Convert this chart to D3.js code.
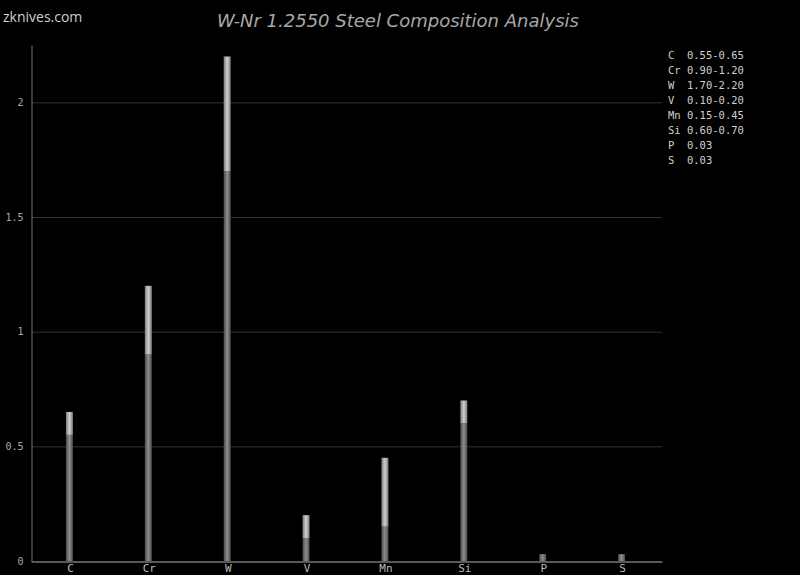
<!DOCTYPE html>
<html><head><meta charset="utf-8">
<script src="https://cdn.jsdelivr.net/npm/d3@7"></script>
<style>body{margin:0;background:#000}svg{display:block}</style>
</head><body>
<script>
const elements = ["C","Cr","W","V","Mn","Si","P","S"];
const minVals = [0.55,0.90,1.70,0.10,0.15,0.60,0.03,0.03];
const maxVals = [0.65,1.20,2.20,0.20,0.45,0.70,0.03,0.03];
const legendLabels = ["C  0.55-0.65","Cr 0.90-1.20","W  1.70-2.20","V  0.10-0.20","Mn 0.15-0.45","Si 0.60-0.70","P  0.03","S  0.03"];
const yTicks = [0,0.5,1,1.5,2];

const W = 800, H = 575;
const m = {l:31, r:138, t:45, b:14};
const svg = d3.select("body").append("svg").attr("width",W).attr("height",H).style("background","#000");
const defs = svg.append("defs");
function grad(id, edge, center){
  const g = defs.append("linearGradient").attr("id",id).attr("x1","0").attr("x2","1").attr("y1","0").attr("y2","0");
  g.append("stop").attr("offset","0%").attr("stop-color",edge);
  g.append("stop").attr("offset","50%").attr("stop-color",center);
  g.append("stop").attr("offset","100%").attr("stop-color",edge);
}
grad("gLow","#4a4a4a","#8e8e8e");
grad("gHigh","#7a7a7a","#d0d0d0");

const x = d3.scaleBand().domain(elements).range([m.l, W-m.r]);
const y = d3.scaleLinear().domain([0,2.25]).range([H-m.b, m.t]);

// gridlines
svg.append("g").selectAll("line").data(yTicks.filter(t=>t>0)).join("line")
  .attr("x1",m.l).attr("x2",W-m.r).attr("y1",d=>y(d)+0.5).attr("y2",d=>y(d)+0.5)
  .attr("stroke","#333").attr("stroke-width",1);

// y axis
const ya = svg.append("g").attr("transform",`translate(${m.l+0.5},0)`)
  .call(d3.axisLeft(y).tickValues(yTicks).tickSize(0).tickPadding(8).tickFormat(d=>String(d)));
ya.select(".domain").attr("stroke","#777");
ya.selectAll("text").attr("fill","#aaa").style("font-family","DejaVu Sans Mono, monospace").style("font-size","10px");

// x axis
const xa = svg.append("g").attr("transform",`translate(0,${H-m.b+0.5})`)
  .call(d3.axisBottom(x).tickSize(0).tickPadding(3));
xa.select(".domain").attr("stroke","#777").attr("stroke-width",1.5);
xa.selectAll("text").attr("fill","#bbb").style("font-family","DejaVu Sans Mono, monospace").style("font-size","11px");

// bars
const bw = 7;
const data = elements.map((e,i)=>({e, lo:minVals[i], hi:maxVals[i]}));
const bars = svg.append("g");
bars.selectAll("rect.lo").data(data).join("rect").attr("class","lo")
  .attr("x",d=>x(d.e)+x.bandwidth()/2-bw/2-1).attr("width",bw)
  .attr("y",d=>y(d.lo)).attr("height",d=>y(0)-y(d.lo))
  .attr("fill","url(#gLow)");
bars.selectAll("rect.hi").data(data.filter(d=>d.hi>d.lo)).join("rect").attr("class","hi")
  .attr("x",d=>x(d.e)+x.bandwidth()/2-bw/2-1).attr("width",bw)
  .attr("y",d=>y(d.hi)).attr("height",d=>y(d.lo)-y(d.hi))
  .attr("fill","url(#gHigh)");

// title
svg.append("text").attr("x",398).attr("y",27).attr("text-anchor","middle")
  .attr("fill","#a8a8a8").style("font-family","DejaVu Sans, sans-serif").style("font-style","italic").style("font-size","18px")
  .text("W-Nr 1.2550 Steel Composition Analysis");
svg.append("text").attr("x",3).attr("y",22)
  .attr("fill","#cfcfcf").style("font-family","Open Sans, DejaVu Sans, sans-serif").style("font-size","14px")
  .text("zknives.com");

// legend
svg.append("g").selectAll("text").data(legendLabels).join("text")
  .attr("x",668).attr("y",(d,i)=>59+i*15)
  .attr("fill","#d0d0d0").style("font-family","DejaVu Sans Mono, monospace").style("font-size","10.5px")
  .attr("xml:space","preserve").style("white-space","pre")
  .text(d=>d);
</script>
</body></html>
